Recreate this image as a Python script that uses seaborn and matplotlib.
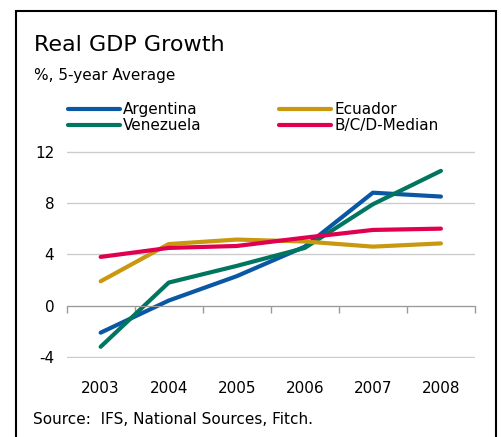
import pandas as pd
import seaborn as sns
import matplotlib.pyplot as plt
from matplotlib.patches import Rectangle

# Data (%, 5-year average)
years = [2003, 2004, 2005, 2006, 2007, 2008]
argentina = [-2.1, 0.4, 2.3, 4.6, 8.8, 8.5]
venezuela = [-3.2, 1.8, 3.1, 4.5, 7.9, 10.5]
ecuador = [1.9, 4.8, 5.15, 5.0, 4.6, 4.85]
median = [3.8, 4.5, 4.65, 5.3, 5.9, 6.0]

series_order = ['Argentina', 'Venezuela', 'Ecuador', 'B/C/D-Median']
colours = dict(zip(series_order, ['#0a57a4', '#00755f', '#c9980f', '#e0004f']))

df = pd.DataFrame({'Year': years * 4,
                   'Growth': argentina + venezuela + ecuador + median,
                   'Series': [s for s in series_order for _ in years]})

sns.set_style('white')
plt.rcParams['font.family'] = ['DejaVu Sans']
plt.rcParams['text.color'] = 'black'
plt.rcParams['xtick.color'] = 'black'
plt.rcParams['ytick.color'] = 'black'

fig = plt.figure(figsize=(5.01, 4.37), dpi=100)
ax = fig.add_axes([0.133, 0.180, 0.815, 0.476])

sns.lineplot(data=df, x='Year', y='Growth', hue='Series', hue_order=series_order,
             palette=colours, linewidth=3.0, solid_capstyle='round', ax=ax)

ax.set_xlim(2002.5, 2008.5)
ax.set_ylim(-4.1, 12.1)
ax.set_yticks([-4, 0, 4, 8, 12])
ax.set_yticklabels(['-4', '0', '4', '8', '12'])
ax.tick_params(axis='y', length=0, pad=9, labelsize=11)
ax.grid(axis='y', color='#cccccc', linewidth=1)
ax.set_axisbelow(True)
ax.set_xlabel('')
ax.set_ylabel('')

for s in ['top', 'right', 'left']:
    ax.spines[s].set_visible(False)
# zero line carries the category boundary ticks
ax.spines['bottom'].set_position(('data', 0))
ax.spines['bottom'].set_color('#999999')
ax.set_xticks([y - 0.5 for y in years] + [years[-1] + 0.5])
ax.set_xticklabels([])
ax.tick_params(axis='x', bottom=True, length=5, width=1, color='#999999', direction='out')

sec = ax.secondary_xaxis(0.0)
sec.set_xticks(years)
sec.set_xticklabels([str(y) for y in years])
sec.tick_params(length=0, pad=16, labelsize=11)
sec.spines['bottom'].set_visible(False)

sns.move_legend(ax, 'lower left', bbox_to_anchor=(0.12, 0.678), bbox_transform=fig.transFigure,
                ncol=2, frameon=False, title=None, fontsize=11, handlelength=3.4,
                handletextpad=0.2, labelspacing=0.08, columnspacing=5.1, borderpad=0)
for h in ax.get_legend().get_lines():
    h.set_linewidth(3.0)
    h.set_solid_capstyle('round')

fig.text(0.068, 0.883, 'Real GDP Growth', fontsize=16, va='baseline')
fig.text(0.068, 0.818, '%, 5-year Average', fontsize=11, va='baseline')
fig.text(0.066, 0.030, 'Source:  IFS, National Sources, Fitch.', fontsize=11, va='baseline')

fig.patches.append(Rectangle((0.032, -0.05), 0.958, 1.025, transform=fig.transFigure,
                             fill=False, edgecolor='black', linewidth=1.5))

fig.savefig('out.png', dpi=100)
